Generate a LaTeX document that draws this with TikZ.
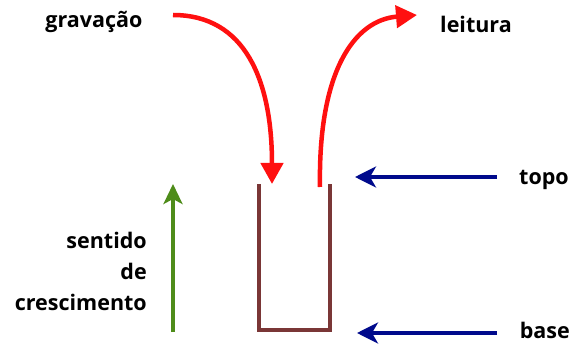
\documentclass[tikz,border=0pt]{standalone}
\usepackage{fontspec}
\setmainfont{Open Sans}
\usetikzlibrary{arrows.meta}
\definecolor{redarrow}{HTML}{FF1010}
\definecolor{bluearrow}{HTML}{000A8C}
\definecolor{greenarrow}{HTML}{4E8C1A}
\definecolor{brownbox}{HTML}{7A3636}
\tikzset{
  lbl/.style={font=\fontsize{21.5}{31}\selectfont\bfseries, inner sep=0pt, text=black},
  redarr/.style={draw=redarrow, line width=4.5pt, -{Triangle[length=21pt,width=22pt]}},
  bluearr/.style={draw=bluearrow, line width=3.5pt, -{Stealth[length=21pt,width=21pt,inset=6pt]}},
  greenarr/.style={draw=greenarrow, line width=3.5pt, -{Stealth[length=20pt,width=19pt,inset=5pt]}},
  boxline/.style={draw=brownbox, line width=3.5pt, line cap=rect}
}
\begin{document}
\begin{tikzpicture}[x=1pt,y=-1pt]
\useasboundingbox (0,0) rectangle (574,345);
% labels
\node[lbl] (grav) at (94,22) {gravação};
\node[lbl] (leit) at (476,24) {leitura};
\node[lbl, anchor=west] (topo) at (519,180) {topo};
\node[lbl, anchor=base east] (base) at (570,338) {base};
\node[lbl, align=right, anchor=east] (sent) at (147,271) {sentido\\de\\crescimento};
% coordinates
\coordinate (g0) at (173,15);
\coordinate (g1) at (272,184);
\coordinate (l0) at (320,187);
\coordinate (l1) at (417,15);
\coordinate (t0) at (497,177);
\coordinate (t1) at (355,177);
\coordinate (b0) at (497,333);
\coordinate (b1) at (357,333);
\coordinate (s0) at (173,332);
\coordinate (s1) at (173,184);
\coordinate (ul) at (259,186);
\coordinate (bl) at (259,330);
\coordinate (br) at (330,330);
\coordinate (ur) at (330,186);
% box
\draw[boxline] (ul) -- (bl) -- (br) -- (ur);
% arrows
\draw[redarr] (g0) .. controls (245,15) and (272,80) .. (g1);
\draw[redarr] (l0) .. controls (318,70) and (355,20) .. (l1);
\draw[bluearr] (t0) -- (t1);
\draw[bluearr] (b0) -- (b1);
\draw[greenarr] (s0) -- (s1);
\end{tikzpicture}
\end{document}
